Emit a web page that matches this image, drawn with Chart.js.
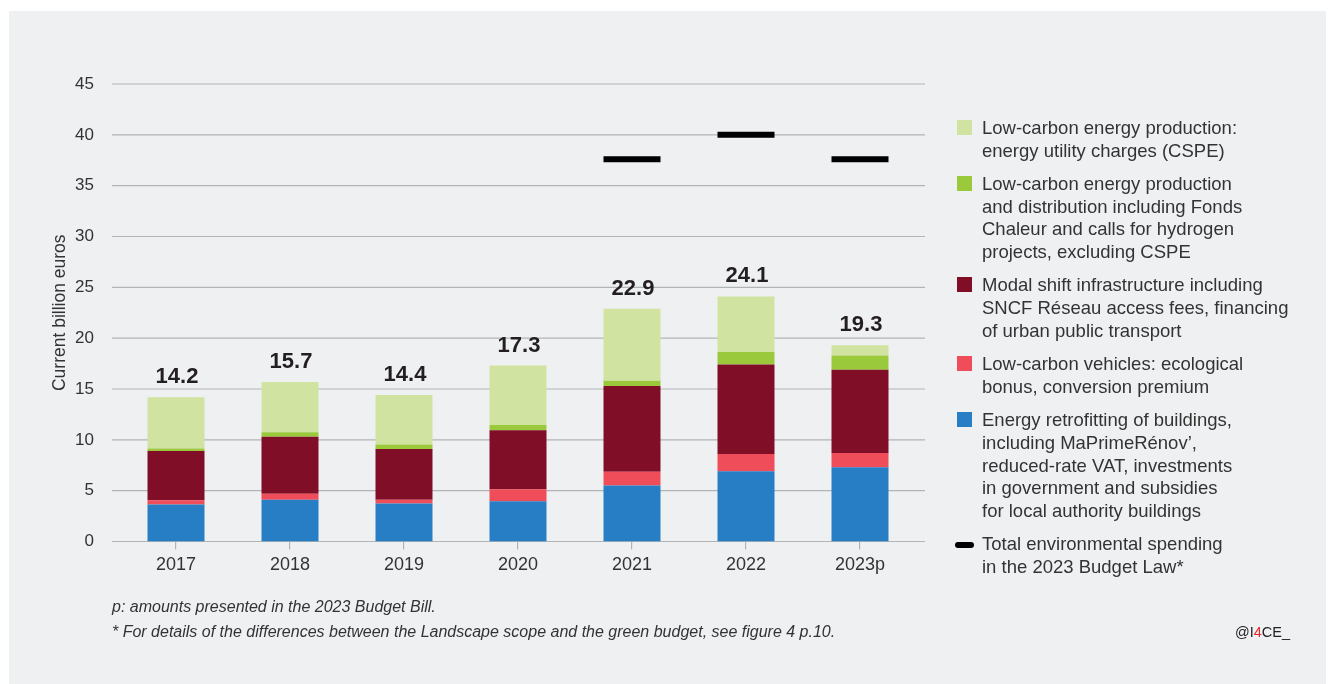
<!DOCTYPE html>
<html>
<head>
<meta charset="utf-8">
<script src="https://cdn.jsdelivr.net/npm/chart.js@4/dist/chart.umd.min.js"></script>
<style>
  html, body { margin: 0; padding: 0; background: #ffffff; }
  body { width: 1328px; height: 684px; position: relative; overflow: hidden;
         font-family: "Liberation Sans", Arial, sans-serif; color: #333333; }
  #panel { position: absolute; left: 9px; top: 11px; width: 1317px; height: 673px; background: #eff0f2; }
  #chart { position: absolute; left: 0; top: 0; }
  #legend { position: absolute; left: 957px; top: 117px; width: 360px; }
  #legend .item { position: relative; padding-left: 25px; margin-bottom: 10.3px;
                  font-size: 18.5px; line-height: 22.8px; white-space: pre-line; }
  #legend .sw { position: absolute; left: 0; top: 3px; width: 15px; height: 15px; }
  #legend .dash { position: absolute; left: -2px; top: 8.5px; width: 19px; height: 6px; border-radius: 3px; }
  #notes { position: absolute; left: 112px; top: 594px; font-size: 16px; line-height: 25px; font-style: italic; color: #333333; }
  #brand { position: absolute; left: 1235px; top: 622px; font-size: 14.5px; line-height: 20px; color: #222222; }
  #brand span { color: #e3262f; }
</style>
</head>
<body>
<div id="panel"></div>
<canvas id="chart" width="1328" height="684"></canvas>
<div id="legend"></div>
<div id="notes">p: amounts presented in the 2023 Budget Bill.<br>* For details of the differences between the Landscape scope and the green budget, see figure 4 p.10.</div>
<div id="brand">@I<span>4</span>CE_</div>
<script>
// Years on the x axis
const years = ['2017', '2018', '2019', '2020', '2021', '2022', '2023p'];

// Spending by category, current billion euros (stacked bottom to top)
const buildings   = [3.65, 4.1, 3.75, 3.95, 5.5, 6.9, 7.3];
const vehicles    = [0.4, 0.6, 0.35, 1.2, 1.35, 1.7, 1.4];
const modalShift  = [4.85, 5.6, 5.0, 5.8, 8.45, 8.8, 8.2];
const energyProd  = [0.25, 0.45, 0.45, 0.5, 0.5, 1.25, 1.4];
const cspe        = [5.05, 4.95, 4.85, 5.85, 7.1, 5.45, 1.0];

// Total environmental spending in the 2023 Budget Law
const budgetLaw   = [null, null, null, null, 37.6, 40.0, 37.6];

// Y axis ticks
const yMin = 0, yMax = 45, yStep = 5;

const seriesNames = [
  'Energy retrofitting of buildings,\nincluding MaPrimeRénov’,\nreduced-rate VAT, investments\nin government and subsidies\nfor local authority buildings',
  'Low-carbon vehicles: ecological\nbonus, conversion premium',
  'Modal shift infrastructure including\nSNCF Réseau access fees, financing\nof urban public transport',
  'Low-carbon energy production\nand distribution including Fonds\nChaleur and calls for hydrogen\nprojects, excluding CSPE',
  'Low-carbon energy production:\nenergy utility charges (CSPE)'
];
const budgetName = 'Total environmental spending\nin the 2023 Budget Law*';
const colors = ['#277ec4', '#ef4d5a', '#7f0e26', '#9bc93c', '#d0e3a0'];

const stacks = [buildings, vehicles, modalShift, energyProd, cspe];
const totals = years.map((_, i) => Math.round(stacks.reduce((s, a) => s + a[i], 0) * 10) / 10);

const FONT = '"Liberation Sans", Arial, sans-serif';
Chart.defaults.font.family = FONT;
Chart.defaults.color = '#333333';

// Horizontal grid lines, running a little past both sides of the bar area
const extGrid = {
  id: 'extGrid',
  beforeDatasetsDraw(chart) {
    const y = chart.scales.y, a = chart.chartArea, ctx = chart.ctx;
    ctx.save();
    ctx.strokeStyle = '#b3b4b6';
    ctx.lineWidth = 1.2;
    y.ticks.forEach(t => {
      const py = y.getPixelForValue(t.value);
      ctx.beginPath();
      ctx.moveTo(a.left - 7, py);
      ctx.lineTo(a.right + 8, py);
      ctx.stroke();
    });
    ctx.restore();
  }
};

// Bold totals above each stacked bar
const totalLabels = {
  id: 'totalLabels',
  afterDatasetsDraw(chart) {
    const x = chart.scales.x, y = chart.scales.y, ctx = chart.ctx;
    ctx.save();
    ctx.font = 'bold 22px ' + FONT;
    ctx.fillStyle = '#231f20';
    ctx.textAlign = 'center';
    ctx.textBaseline = 'alphabetic';
    totals.forEach((v, i) => {
      ctx.fillText(v.toFixed(1), x.getPixelForValue(i) + 1, y.getPixelForValue(v) - 14);
    });
    ctx.restore();
  }
};

const datasets = stacks.map((data, k) => ({
  type: 'bar',
  label: seriesNames[k],
  data: data,
  backgroundColor: colors[k],
  borderWidth: 0,
  stack: 'landscape',
  barPercentage: 0.5,
  categoryPercentage: 1.0,
  order: 2
}));
datasets.push({
  type: 'line',
  label: budgetName,
  data: budgetLaw,
  stack: 'budget',
  showLine: false,
  pointStyle: 'line',
  pointRadius: 28.5,
  pointHoverRadius: 28.5,
  pointBorderWidth: 6,
  pointBorderColor: '#000000',
  pointBackgroundColor: '#000000',
  borderColor: '#000000',
  order: 1
});

new Chart(document.getElementById('chart'), {
  data: { labels: years, datasets: datasets },
  plugins: [extGrid, totalLabels],
  options: {
    responsive: false,
    animation: false,
    layout: { padding: { left: 0, top: 84, right: 411, bottom: 0 } },
    plugins: { legend: { display: false }, tooltip: { enabled: false } },
    scales: {
      x: {
        stacked: true,
        offset: true,
        border: { display: false },
        grid: { display: true, offset: false, drawOnChartArea: false, drawTicks: true,
                tickLength: 8, color: '#b3b4b6', lineWidth: 1.2 },
        ticks: { font: { size: 18 }, color: '#333333', padding: 5 },
        afterFit(scale) { scale.height = 142.5; }
      },
      y: {
        stacked: true,
        min: yMin, max: yMax,
        border: { display: false },
        grid: { display: false },
        ticks: { stepSize: yStep, font: { size: 17 }, color: '#333333', padding: 17 },
        title: { display: true, text: 'Current billion euros', font: { size: 17.5 }, color: '#333333',
                 padding: { top: 49.5, bottom: 0 } },
        afterFit(scale) { scale.width = 119; }
      }
    }
  }
});

// Legend, top entry first
const legend = document.getElementById('legend');
for (let k = stacks.length - 1; k >= 0; k--) {
  const item = document.createElement('div');
  item.className = 'item';
  const sw = document.createElement('span');
  sw.className = 'sw';
  sw.style.background = colors[k];
  item.appendChild(sw);
  item.appendChild(document.createTextNode(seriesNames[k]));
  legend.appendChild(item);
}
const last = document.createElement('div');
last.className = 'item';
const dash = document.createElement('span');
dash.className = 'dash';
dash.style.background = '#000000';
last.appendChild(dash);
last.appendChild(document.createTextNode(budgetName));
legend.appendChild(last);
</script>
</body>
</html>
